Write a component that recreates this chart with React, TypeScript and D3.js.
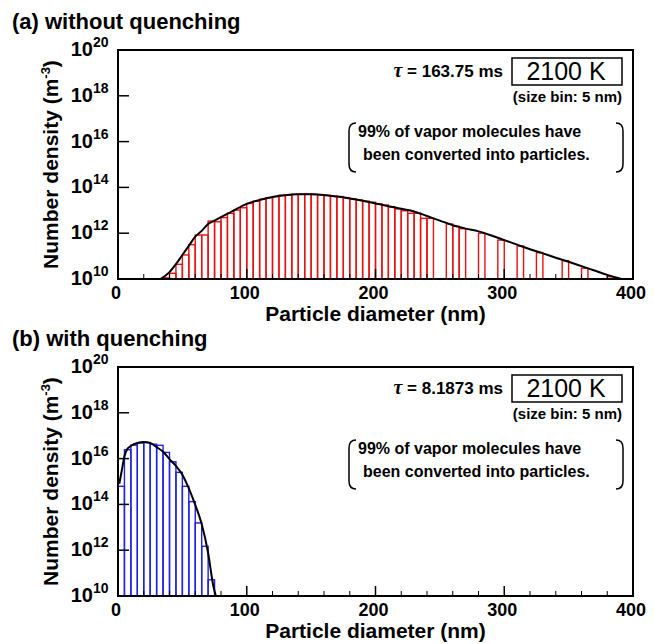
import React from 'react';
import * as d3 from 'd3';

const W = 654;
const H = 644;

// x axis (particle diameter, nm) and y axis (log10 of number density, m^-3)
const diaTicks = [0, 100, 200, 300, 400];
const diaMinor = [20, 40, 60, 80, 120, 140, 160, 180, 220, 240, 260, 280, 320, 340, 360, 380];
const decadeTicks = [10, 12, 14, 16, 18, 20];

// (a) without quenching: 5 nm bins, lower edge of bin and log10(N)
const binsA = [35, 40, 45, 50, 55, 60, 65, 70, 75, 80, 85, 90, 95, 100, 105, 110, 115, 120, 125, 130,
  135, 140, 145, 150, 155, 160, 165, 170, 175, 180, 185, 190, 195, 200, 205, 210, 215, 220, 225, 230,
  235, 240, 255, 260, 265, 280, 295, 310, 325, 345, 360, 380];
const logNA = [10.05, 10.25, 10.64, 11.05, 11.5, 11.92, 11.92, 12.53, 12.5, 12.68, 12.87, 13.01, 13.11, 13.3, 13.4, 13.48, 13.55, 13.6, 13.66, 13.68,
  13.7, 13.7, 13.71, 13.7, 13.68, 13.65, 13.62, 13.6, 13.55, 13.5, 13.45, 13.4, 13.35, 13.28, 13.23, 13.16, 13.06, 12.98, 12.87, 12.87,
  12.65, 12.65, 12.4, 12.3, 12.2, 12.0, 11.7, 11.44, 11.15, 10.8, 10.47, 10.1];
// smooth (black) curve
const curveDA = [33, 40, 45, 50, 55, 60, 65, 70, 75, 80, 90, 100, 110, 120, 130, 140, 150, 160, 170, 180,
  190, 200, 210, 220, 230, 240, 250, 260, 270, 280, 290, 300, 310, 320, 330, 340, 350, 360, 370, 380, 391];
const curveNA = [10.0, 10.3, 10.65, 11.05, 11.45, 11.85, 12.1, 12.4, 12.55, 12.7, 13.0, 13.28, 13.45, 13.58, 13.66, 13.7, 13.7, 13.67, 13.6, 13.52,
  13.42, 13.3, 13.18, 13.07, 12.95, 12.75, 12.55, 12.35, 12.2, 12.08, 11.9, 11.7, 11.5, 11.3, 11.12, 10.93, 10.75, 10.56, 10.37, 10.18, 10.0];

// (b) with quenching
const binsB = [0, 5, 10, 15, 20, 25, 30, 35, 40, 45, 50, 55, 60, 65, 70];
const logNB = [14.79, 16.39, 16.59, 16.68, 16.7, 16.63, 16.58, 16.27, 15.86, 15.4, 14.79, 14.12, 13.19, 12.17, 10.71];
const curveDB = [1, 3, 5, 7, 10, 15, 20, 25, 30, 35, 40, 45, 50, 55, 60, 65, 70, 74, 76];
const curveNB = [14.9, 15.5, 16.1, 16.4, 16.55, 16.68, 16.72, 16.68, 16.5, 16.3, 15.98, 15.68, 15.3, 14.7, 13.98, 13.14, 11.88, 10.45, 10.0];

const FONT = '"Liberation Sans", Arial, sans-serif';

function Panel({ top, title, tau, bins, logN, curveD, curveN, color, clipId }) {
  const left = 118, right = 633, bottom = top + 229;
  const x = d3.scaleLinear().domain([0, 400]).range([left, right]);
  const y = d3.scaleLog().domain([1e10, 1e20]).range([bottom, top]);

  const line = d3.line()
    .x(d => x(d[0]))
    .y(d => y(Math.pow(10, d[1])))
    .curve(d3.curveMonotoneX);
  const pts = curveD.map((d, i) => [d, curveN[i]]);

  return (
    <g fontFamily={FONT} fontWeight="bold">
      <defs>
        <clipPath id={clipId}>
          <rect x={left} y={top} width={right - left} height={bottom - top} />
        </clipPath>
      </defs>
      <text x={12} y={top - 21} fontSize={22}>{title}</text>

      <g clipPath={`url(#${clipId})`}>
        {bins.map((b, i) => {
          const yy = y(Math.pow(10, logN[i]));
          return (
            <rect key={i} x={x(b)} y={yy} width={x(b + 5) - x(b)} height={bottom - yy}
              fill="none" stroke={color} strokeWidth={1.4} />
          );
        })}
        <path d={line(pts)} fill="none" stroke="#000" strokeWidth={2} />
      </g>

      {/* frame */}
      <rect x={left} y={top} width={right - left} height={bottom - top} fill="none" stroke="#000" strokeWidth={2} />
      {diaTicks.map(t => (
        <line key={'M' + t} x1={x(t)} x2={x(t)} y1={bottom} y2={bottom - 10} stroke="#000" strokeWidth={1.5} />
      ))}
      {diaMinor.map(t => (
        <line key={'m' + t} x1={x(t)} x2={x(t)} y1={bottom} y2={bottom - 5} stroke="#000" strokeWidth={1} />
      ))}
      {decadeTicks.map(t => (
        <line key={'y' + t} x1={left} x2={left + 11} y1={y(Math.pow(10, t))} y2={y(Math.pow(10, t))} stroke="#000" strokeWidth={1.5} />
      ))}

      {/* tick labels */}
      {diaTicks.map(t => (
        <text key={'l' + t} x={x(t) - 2} y={bottom + 20} fontSize={18} textAnchor="middle">{t}</text>
      ))}
      {decadeTicks.map(t => {
        const yy = y(Math.pow(10, t));
        return (
          <g key={'yl' + t}>
            <text x={93} y={yy + 6} fontSize={20} textAnchor="end">10</text>
            <text x={93} y={yy - 3} fontSize={14}>{t}</text>
          </g>
        );
      })}

      {/* axis titles */}
      <text x={(left + right) / 2} y={bottom + 42} fontSize={21} textAnchor="middle">Particle diameter (nm)</text>
      <text transform={`translate(58,${(top + bottom) / 2}) rotate(-90)`} fontSize={21} textAnchor="middle">
        Number density (m<tspan dy={-8} fontSize={13}>-3</tspan><tspan dy={8}>)</tspan>
      </text>

      {/* annotations */}
      <text x={503} y={top + 27} fontSize={17} textAnchor="end">
        <tspan fontFamily='"Liberation Serif", serif' fontStyle="italic" fontSize={20}>τ</tspan> = {tau} ms
      </text>
      <rect x={512} y={top + 8} width={110} height={27} fill="none" stroke="#000" strokeWidth={1.5} />
      <text x={566} y={top + 30} fontSize={25} fontWeight="normal" textAnchor="middle">2100 K</text>
      <text x={622} y={top + 52} fontSize={15} textAnchor="end">(size bin: 5 nm)</text>
      <path d={`M356,${top + 73} Q349,${top + 73} 349,${top + 81} L349,${top + 114} Q349,${top + 122} 356,${top + 122}`}
        fill="none" stroke="#000" strokeWidth={1.5} />
      <path d={`M616,${top + 73} Q623,${top + 73} 623,${top + 81} L623,${top + 114} Q623,${top + 122} 616,${top + 122}`}
        fill="none" stroke="#000" strokeWidth={1.5} />
      <text x={358} y={top + 87} fontSize={16}>99% of vapor molecules have</text>
      <text x={363} y={top + 110} fontSize={16}>been converted into particles.</text>
    </g>
  );
}

export default function App() {
  return (
    <svg width={W} height={H} style={{ position: 'absolute', left: 0, top: 0, background: '#fff' }}>
      <rect width={W} height={H} fill="#fff" />
      <Panel top={50} title="(a) without quenching" tau="163.75" bins={binsA} logN={logNA}
        curveD={curveDA} curveN={curveNA} color="#e81010" clipId="clipA" />
      <Panel top={367} title="(b) with quenching" tau="8.1873" bins={binsB} logN={logNB}
        curveD={curveDB} curveN={curveNB} color="#2020e8" clipId="clipB" />
    </svg>
  );
}
